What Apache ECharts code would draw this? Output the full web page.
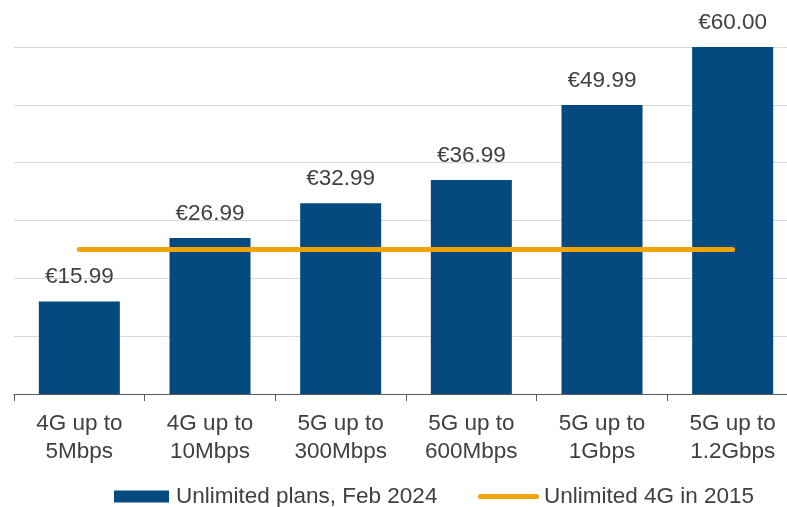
<!DOCTYPE html>
<html>
<head>
<meta charset="utf-8">
<script src="https://cdn.jsdelivr.net/npm/echarts@6/dist/echarts.min.js"></script>
<style>
  html, body { margin: 0; padding: 0; background: #fff; overflow: hidden; }
  /* the plot area runs slightly past the right edge of the window */
  #chart { width: 798px; height: 507px; }
</style>
</head>
<body>
<div id="chart"></div>
<script>
// Plan tiers and their monthly prices (EUR)
const categories = [
  '4G up to\n5Mbps',
  '4G up to\n10Mbps',
  '5G up to\n300Mbps',
  '5G up to\n600Mbps',
  '5G up to\n1Gbps',
  '5G up to\n1.2Gbps'
];
const plans2024 = [15.99, 26.99, 32.99, 36.99, 49.99, 60.00];
const unlimited4G2015 = [25, 25, 25, 25, 25, 25];

const barName = 'Unlimited plans, Feb 2024';
const lineName = 'Unlimited 4G in 2015';

const textColor = '#404040';
const fontFamily = '"Liberation Sans", Arial, sans-serif';

const chart = echarts.init(document.getElementById('chart'));
chart.setOption({
  animation: false,
  textStyle: { fontFamily: fontFamily, color: textColor },
  grid: { left: 14, top: 47, right: 0, bottom: 113, containLabel: false },
  xAxis: {
    type: 'category',
    data: categories,
    axisLine: { lineStyle: { color: '#595959', width: 1 } },
    axisTick: { show: true, length: 7, lineStyle: { color: '#595959' } },
    axisLabel: {
      color: textColor,
      fontSize: 22.5,
      lineHeight: 28,
      margin: 16,
      fontFamily: fontFamily,
      interval: 0
    }
  },
  yAxis: {
    type: 'value',
    min: 0,
    max: 60,
    interval: 10,
    axisLabel: { show: false },
    axisLine: { show: false },
    axisTick: { show: false },
    splitLine: { lineStyle: { color: '#d9d9d9', width: 1 } }
  },
  legend: [
    {
      data: [barName],
      left: 109,
      top: 480,
      icon: 'rect',
      itemWidth: 55,
      itemHeight: 12,
      itemGap: 0,
      textStyle: { color: textColor, fontSize: 22.5, fontFamily: fontFamily, padding: [0, 0, 0, 2] }
    },
    {
      data: [{
        name: lineName,
        icon: 'path://M2.5,0H58.5A2.5,2.5,0,0,1,58.5,5H2.5A2.5,2.5,0,0,1,2.5,0Z'
      }],
      left: 473,
      top: 480,
      itemWidth: 61,
      itemHeight: 5,
      itemGap: 0,
      textStyle: { color: textColor, fontSize: 22.5, fontFamily: fontFamily }
    }
  ],
  series: [
    {
      name: barName,
      type: 'bar',
      data: plans2024,
      barWidth: '62%',
      itemStyle: { color: '#044a7e' },
      label: {
        show: true,
        position: 'top',
        distance: 13,
        color: textColor,
        fontSize: 22.5,
        fontFamily: fontFamily,
        formatter: p => '\u20ac' + p.value.toFixed(2)
      }
    },
    {
      name: lineName,
      type: 'line',
      data: unlimited4G2015,
      symbol: 'none',
      lineStyle: { color: '#f0a30a', width: 5, cap: 'round' },
      itemStyle: { color: '#f0a30a' },
      z: 5
    }
  ]
});
</script>
</body>
</html>
